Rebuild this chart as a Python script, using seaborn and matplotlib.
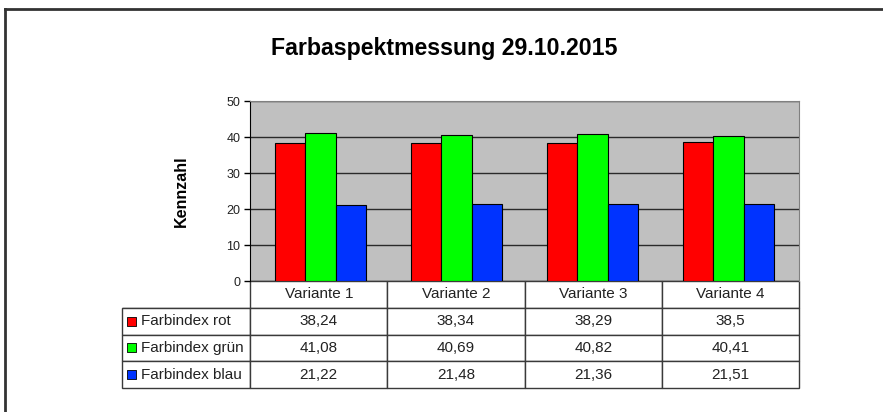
import numpy as np
import pandas as pd
import matplotlib.pyplot as plt
import seaborn as sns
from matplotlib.lines import Line2D

# --- Daten ---
varianten = ["Variante 1", "Variante 2", "Variante 3", "Variante 4"]
serien = ["Farbindex rot", "Farbindex grün", "Farbindex blau"]
werte_rot = [38.24, 38.34, 38.29, 38.5]
werte_gruen = [41.08, 40.69, 40.82, 40.41]
werte_blau = [21.22, 21.48, 21.36, 21.51]
farben = ["#ff0000", "#00ff00", "#0033ff"]
y_ticks = [0, 10, 20, 30, 40, 50]

df = pd.DataFrame({
    "Variante": varianten * 3,
    "Serie": np.repeat(serien, len(varianten)),
    "Wert": werte_rot + werte_gruen + werte_blau,
})

plt.rcParams["font.family"] = ["Liberation Sans", "DejaVu Sans"]

W, H = 883, 412
fig = plt.figure(figsize=(W / 100, H / 100), dpi=100)
ax = fig.add_axes([250 / W, 1 - 281 / H, 549 / W, 180 / H])
ax.set_facecolor("#c0c0c0")

# --- Balken ---
sns.barplot(
    data=df, x="Variante", y="Wert", hue="Serie",
    order=varianten, hue_order=serien, palette=farben,
    saturation=1, width=0.67, edgecolor="black", linewidth=0.8,
    legend=False, ax=ax,
)

ax.set_ylim(0, 50)
ax.set_yticks(y_ticks)
ax.set_axisbelow(True)
ax.grid(axis="y", color="#2a2a2a", linewidth=1)
ax.grid(axis="x", visible=False)
ax.set_xticks([])
ax.set_xlabel("")
ax.tick_params(axis="y", length=4, width=1, color="black", labelsize=9,
               labelcolor="#222222", pad=3)
ax.set_ylabel("Kennzahl", fontsize=11.5, fontweight="bold", va="center")
ax.yaxis.set_label_coords((181 - 250) / 549, 0.5)

ax.spines["left"].set_color("black")
ax.spines["top"].set_color("#808080")
ax.spines["right"].set_color("#808080")
ax.spines["bottom"].set_visible(False)

# --- Datentabelle (erste Spalte = Legende) ---
zellen = [[name] + [f"{v:g}".replace(".", ",") for v in reihe]
          for name, reihe in zip(serien, (werte_rot, werte_gruen, werte_blau))]
tab_box = [(122 - 250) / 549, -107 / 180, 677 / 549, 107 / 180]
tab = ax.table(cellText=zellen, colLabels=[""] + varianten,
               colWidths=[128, 137, 137, 137, 137],
               cellLoc="center", colLoc="center", bbox=tab_box)
tab.auto_set_font_size(False)
tab.set_fontsize(11)
for (r, c), cell in tab.get_celld().items():
    cell.set_edgecolor("#3a3a3a")
    cell.set_linewidth(1)
    cell.get_text().set_color("#222222")
    if c == 0:
        cell.get_text().set_ha("left")
        cell.PAD = 0.15
        if r == 0:
            cell.visible_edges = "B"

# Legendenkästchen in der Tabelle
zeile_h = tab_box[3] / 4
kx = [(131.5 - 250) / 549] * len(serien)
ky = [tab_box[1] + (len(serien) - i - 0.5) * zeile_h for i in range(len(serien))]
ax.scatter(kx, ky, marker="s", s=42, c=farben, edgecolors="black",
           linewidths=0.6, transform=ax.transAxes, clip_on=False, zorder=5)

# --- Titel und Rahmen ---
fig.text(444.5 / W, 1 - 48 / H, "Farbaspektmessung 29.10.2015",
         ha="center", va="center", fontsize=16.7, fontweight="bold")
fig.add_artist(Line2D([5 / W, 1], [1 - 9 / H] * 2, transform=fig.transFigure,
                      color="#333333", linewidth=2))
fig.add_artist(Line2D([5 / W] * 2, [0, 1 - 9 / H], transform=fig.transFigure,
                      color="#333333", linewidth=2))

fig.savefig("out.png", dpi=100)
